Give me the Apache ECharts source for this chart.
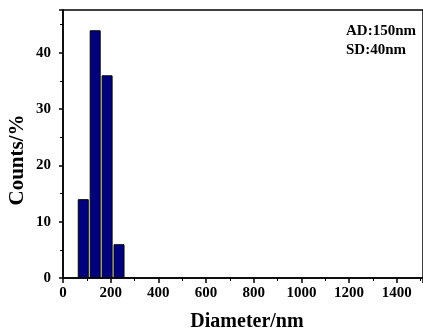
<!DOCTYPE html>
<html>
<head>
<meta charset="utf-8">
<script src="https://cdn.jsdelivr.net/npm/echarts@6/dist/echarts.min.js"></script>
<style>
  html, body { margin: 0; padding: 0; background: #fff; }
  #chart { width: 423px; height: 335px; }
</style>
</head>
<body>
<div id="chart"></div>
<script>
// histogram bins (bin centre in nm) and counts in %
const binCenters = [85, 135, 185, 235];
const counts = [14, 44, 36, 6];
const notes = ['AD:150nm', 'SD:40nm'];

const font = '"Liberation Serif", "DejaVu Serif", serif';
const chart = echarts.init(document.getElementById('chart'), null, { renderer: 'canvas' });

const option = {
  backgroundColor: '#fff',
  animation: false,
  grid: { left: 63, top: 10, right: -6, bottom: 57, show: true, borderColor: '#000', borderWidth: 1.5 },
  xAxis: {
    type: 'value',
    min: 0,
    max: 1510,
    interval: 200,
    axisLine: { show: true, lineStyle: { color: '#000', width: 1.5 } },
    axisTick: { show: true, inside: false, length: 5, lineStyle: { color: '#000', width: 1.5 } },
    minorTick: { show: true, splitNumber: 2, length: 3, lineStyle: { color: '#000', width: 1 } },
    axisLabel: {
      fontFamily: font, fontWeight: 'bold', fontSize: 15, color: '#000', margin: 8,
      showMaxLabel: false, formatter: v => String(v)
    },
    splitLine: { show: false }
  },
  yAxis: {
    type: 'value',
    min: 0,
    max: 47.6,
    interval: 10,
    axisLine: { show: true, lineStyle: { color: '#000', width: 1.5 } },
    axisTick: { show: true, inside: false, length: 4, lineStyle: { color: '#000', width: 1.5 } },
    minorTick: { show: true, splitNumber: 2, length: 3, lineStyle: { color: '#000', width: 1 } },
    axisLabel: {
      fontFamily: font, fontWeight: 'bold', fontSize: 15, color: '#000', margin: 12,
      showMaxLabel: false, formatter: v => String(v)
    },
    splitLine: { show: false }
  },
  graphic: [
    ...notes.map((t, i) => ({
      type: 'text',
      left: 346,
      top: 24 + i * 19,
      style: { text: t, fontFamily: font, fontWeight: 'bold', fontSize: 15, fill: '#000' }
    })),
    {
      type: 'text',
      x: 247, y: 322,
      style: { text: 'Diameter/nm', fontFamily: font, fontWeight: 'bold', fontSize: 20, fill: '#000', align: 'center', verticalAlign: 'middle' }
    },
    {
      type: 'text',
      x: 18, y: 160,
      rotation: Math.PI / 2,
      style: { text: 'Counts/%', fontFamily: font, fontWeight: 'bold', fontSize: 21, fill: '#000', align: 'center', verticalAlign: 'middle' }
    }
  ],
  series: [
    {
      type: 'bar',
      data: binCenters.map((x, i) => [x, counts[i]]),
      barWidth: 11,
      itemStyle: { color: '#00007f', borderColor: '#000', borderWidth: 1 }
    }
  ]
};
chart.setOption(option);
</script>
</body>
</html>
